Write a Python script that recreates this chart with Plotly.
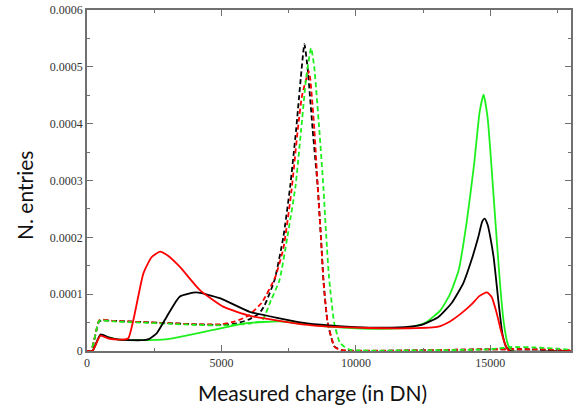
import plotly.graph_objects as go

# ---- data ----
black_solid_x = [0, 200, 500, 800, 1200, 2000, 2300, 2590, 2960, 3455, 4070, 4940, 6050, 7160, 8000, 9000,
                 10000, 11000, 12000, 12500, 13070, 13570, 14000, 14300, 14550, 14700, 14790, 14900, 15000,
                 15122, 15307, 15450, 15600, 15750, 18000]
black_solid_y = [0, 0, 0.000029, 0.000024, 0.00002, 0.000019, 0.000021, 0.000031, 0.00006, 0.000096, 0.000103,
                 0.000093, 0.000069, 0.0000575, 0.00005, 0.000045, 0.000042, 0.000041, 0.000043, 0.000047,
                 0.00006, 0.000085, 0.00012, 0.00016, 0.0002, 0.000228, 0.000233, 0.000222, 0.0002,
                 0.000165, 0.000085, 0.00003, 0.000006, 0, 0]

red_solid_x = [0, 200, 500, 800, 1200, 1530, 1727, 2100, 2400, 2715, 3000, 3455, 4200, 5060, 6050, 7160, 8000,
               9000, 10000, 11000, 12000, 13070, 13500, 13940, 14300, 14600, 14875, 15050, 15235, 15400, 15550,
               15700, 18000]
red_solid_y = [0, 0, 0.000027, 0.000022, 0.00002, 0.000022, 0.000055, 0.000137, 0.000165, 0.000175, 0.000168,
               0.000148, 0.000107, 0.000078, 0.000062, 0.000053, 0.000047, 0.000043, 0.000041, 0.00004,
               0.00004, 0.000043, 0.000052, 0.000067, 0.000082, 0.000097, 0.000103, 0.000095, 0.000067,
               0.000035, 0.000012, 0, 0]

green_solid_x = [0, 200, 500, 800, 1200, 2000, 3000, 3455, 4000, 4690, 5925, 7160, 8000, 9000, 10000, 11000,
                 12000, 12600, 13150, 13500, 13826, 14130, 14400, 14600, 14750, 14900, 15050, 15185, 15370,
                 15500, 15650, 15800, 18000]
green_solid_y = [0, 0, 0.000028, 0.000024, 0.00002, 0.000019, 0.000021, 0.000025, 0.00003, 0.000037, 0.000049,
                 0.000052, 0.000048, 0.000043, 0.00004, 0.000039, 0.000041, 0.00005, 0.000072, 0.0001,
                 0.000143, 0.00023, 0.00033, 0.00042, 0.000451, 0.00041, 0.00032, 0.00023, 0.000113,
                 0.00005, 0.000012, 0, 0]

black_dash_x = [0, 150, 450, 600, 1000, 2000, 3000, 4000, 5000, 5500, 6000, 6400, 6600, 6975, 7300, 7555, 7777,
                7950, 8085, 8200, 8393, 8580, 8700, 8800, 8950, 9200, 9500, 12000, 15000, 16500, 18000]
black_dash_y = [0, 0, 0.000052, 0.000054, 0.000053, 0.000051, 0.000049, 0.000047, 0.000046, 0.000048,
                0.000055, 0.000066, 0.00008, 0.000125, 0.0002, 0.000289, 0.000389, 0.00048, 0.00054, 0.0005,
                0.000389, 0.000289, 0.0002, 0.00012, 0.00005, 0.000008, 0.000001, 0.000001, 0.000003,
                0.000003, 0.000001]

red_dash_x = [0, 150, 450, 600, 1000, 2000, 3000, 4000, 5000, 5500, 6000, 6500, 7000, 7300, 7600, 7840, 8000,
              8245, 8300, 8455, 8580, 8700, 8800, 8950, 9200, 9400, 12000, 15000, 16500, 18000]
red_dash_y = [0, 0, 0.000054, 0.000055, 0.000053, 0.000051, 0.000049, 0.000047, 0.000047, 0.000052, 0.000062,
              0.000085, 0.00013, 0.00018, 0.00028, 0.00039, 0.00045, 0.000492, 0.00048, 0.00039, 0.00029,
              0.0002, 0.00012, 0.00005, 0.000008, 0.000002, 0.000001, 0.000003, 0.000003, 0.000001]

green_dash_x = [0, 150, 450, 600, 1000, 2000, 3000, 4000, 5000, 6000, 6500, 6850, 7160, 7450, 7752, 7963, 8150,
                8333, 8450, 8640, 8790, 8900, 9000, 9195, 9400, 9570, 9800, 12000, 15000, 15800, 16800,
                17500, 18000]
green_dash_y = [0, 0, 0.000053, 0.000054, 0.000052, 0.00005, 0.000048, 0.000046, 0.000045, 0.000048, 0.000053,
                0.00009, 0.000125, 0.0002, 0.000289, 0.000389, 0.00048, 0.000533, 0.0005, 0.000389, 0.000289,
                0.0002, 0.00013, 0.000049, 0.000015, 0.0000076, 0.000002, 0.000001, 0.000003, 0.000007,
                0.000006, 0.000004, 0.000002]

x_ticks = [0, 5000, 10000, 15000]
x_tick_labels = ["0", "5000", "10000", "15000"]
y_ticks = [0, 0.0001, 0.0002, 0.0003, 0.0004, 0.0005, 0.0006]
y_tick_labels = ["0", "0.0001", "0.0002", "0.0003", "0.0004", "0.0005", "0.0006"]

RED = "#ff0000"
GREEN = "#1ef01e"
BLACK = "#000000"

fig = go.Figure()
series = [
    (black_dash_x, black_dash_y, BLACK, "dash"),
    (red_dash_x, red_dash_y, RED, "dash"),
    (green_dash_x, green_dash_y, GREEN, "dash"),
    (green_solid_x, green_solid_y, GREEN, "solid"),
    (black_solid_x, black_solid_y, BLACK, "solid"),
    (red_solid_x, red_solid_y, RED, "solid"),
]
for xs, ys, col, dash in series:
    fig.add_trace(go.Scatter(
        x=xs, y=ys, mode="lines",
        line=dict(color=col, width=1.8, dash="5px,3px" if dash == "dash" else "solid",
                  shape="spline", smoothing=0.5),
        showlegend=False, hoverinfo="skip"))

axis_common = dict(
    showgrid=False, zeroline=False, showline=True, linecolor="#707070", linewidth=1.5,
    mirror="allticks", ticks="inside", ticklen=6, tickcolor="#707070", tickwidth=1.2,
    tickfont=dict(family="Liberation Serif", size=12, color="#333333"),
)
fig.update_xaxes(range=[0, 18000], tickvals=x_ticks, ticktext=x_tick_labels,
                 minor=dict(ticks="inside", ticklen=3, dtick=2500, tickcolor="#707070", showgrid=False),
                 **axis_common)
fig.update_yaxes(range=[0, 0.0006], tickvals=y_ticks, ticktext=y_tick_labels,
                 minor=dict(ticks="inside", ticklen=3, dtick=0.00005, tickcolor="#707070", showgrid=False),
                 **axis_common)

fig.add_annotation(text="Measured charge (in DN)", xref="paper", yref="paper",
                   x=(313 - 87) / 486, y=0, yshift=-41, showarrow=False,
                   font=dict(family="Lato, Open Sans, sans-serif", size=21, color="#111111"),
                   xanchor="center", yanchor="middle")
fig.add_annotation(text="N. entries", xref="paper", yref="paper",
                   x=0, xshift=-63, y=(351 - 196) / 341, showarrow=False, textangle=-90,
                   font=dict(family="Lato, Open Sans, sans-serif", size=21, color="#111111"),
                   xanchor="center", yanchor="middle")

fig.update_layout(
    width=576, height=415,
    margin=dict(l=87, r=3, t=10, b=64),
    paper_bgcolor="white", plot_bgcolor="white",
)

fig.write_html("out.html")
